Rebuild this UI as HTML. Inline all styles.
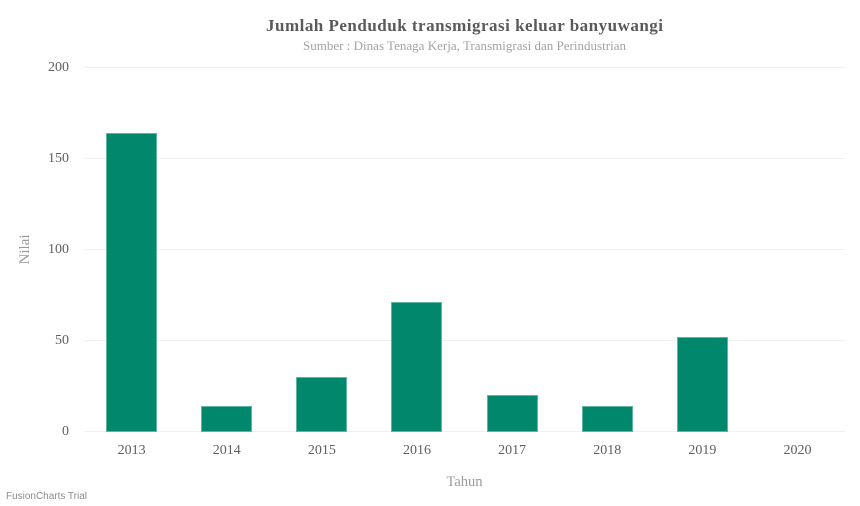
<!DOCTYPE html>
<html>
<head>
<meta charset="utf-8">
<style>
html,body{margin:0;padding:0;background:#fff;width:860px;height:506px;overflow:hidden}
svg{display:block}
text{font-family:"Liberation Serif",serif}
</style>
</head>
<body>
<svg id="chart" xmlns="http://www.w3.org/2000/svg" width="860" height="506" viewBox="0 0 860 506">
  <rect x="0" y="0" width="860" height="506" fill="#ffffff"/>
  <text x="464.5" y="31" text-anchor="middle" font-size="17" font-weight="bold" fill="#5a5a5a" textLength="397" lengthAdjust="spacing">Jumlah Penduduk transmigrasi keluar banyuwangi</text>
  <text x="464.5" y="50" text-anchor="middle" font-size="13" fill="#a3a3a3" textLength="323" lengthAdjust="spacing">Sumber : Dinas Tenaga Kerja, Transmigrasi dan Perindustrian</text>
  <g id="grid"></g>
  <g id="yticks"></g>
  <g id="bars"></g>
  <g id="xticks"></g>
  <text transform="translate(29,249.5) rotate(-90)" text-anchor="middle" font-size="15" fill="#9b9b9b">Nilai</text>
  <text x="464.5" y="486" text-anchor="middle" font-size="14.5" fill="#9b9b9b">Tahun</text>
  <text x="6" y="499" font-size="10" fill="#8c8c8c" style="font-family:'Liberation Sans',sans-serif" textLength="81" lengthAdjust="spacing">FusionCharts Trial</text>
</svg>
<script>
const categories = ["2013", "2014", "2015", "2016", "2017", "2018", "2019", "2020"];
const seriesValues = [164, 14, 30, 71, 20, 14, 52, 0];
const yTickLabels = [0, 50, 100, 150, 200];

const NS = "http://www.w3.org/2000/svg";
const plotLeft = 84, plotRight = 845, plotTop = 67.5, plotBottom = 431.5;
const yMax = 200;
const barWidth = 50;

function yScale(v) {
  return plotBottom - (v / yMax) * (plotBottom - plotTop);
}
function xCenter(i) {
  return plotLeft + (i + 0.5) * (plotRight - plotLeft) / categories.length;
}
function make(tag, attrs, text) {
  const el = document.createElementNS(NS, tag);
  for (const k in attrs) el.setAttribute(k, attrs[k]);
  if (text !== undefined) el.textContent = text;
  return el;
}

const grid = document.getElementById("grid");
const yticks = document.getElementById("yticks");
yTickLabels.forEach(function (t) {
  const line = make("line", { x1: plotLeft, x2: plotRight, y1: yScale(t), y2: yScale(t), stroke: "#f0f0f0", "stroke-width": 1 });
  
  
  grid.appendChild(line);
  const label = make("text", { x: 69, y: yScale(t) + 3.5, "text-anchor": "end", "font-size": 14, fill: "#5f5f5f" }, t);
  
  
  yticks.appendChild(label);
});

const bars = document.getElementById("bars");
const xticks = document.getElementById("xticks");
categories.forEach(function (c, i) {
  const v = seriesValues[i];
  const cx = xCenter(i);
  const left = Math.floor(cx - barWidth / 2) + 0.5;
  if (v > 0) {
    const top = Math.floor(yScale(v) + 0.3) + 0.5;
    const bar = make("rect", { x: left, y: top, width: barWidth, height: plotBottom - top, fill: "#00876c", stroke: "#5fb5a3", "stroke-width": 1 });
    
    
    bars.appendChild(bar);
  }
  const label = make("text", { x: cx, y: 454, "text-anchor": "middle", "font-size": 14, fill: "#5f5f5f" }, c);
  
  
  xticks.appendChild(label);
});
</script>
</body>
</html>
